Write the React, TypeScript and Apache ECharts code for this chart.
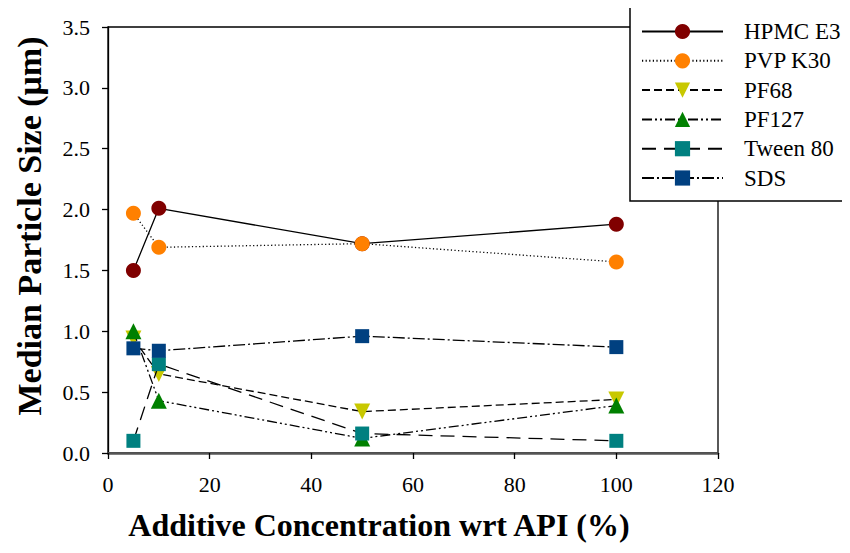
import React, { useEffect, useRef } from "react";
import * as echarts from "echarts";

const xValues = [5, 10, 50, 100];
const seriesNames = ["HPMC E3", "PVP K30", "PF68", "PF127", "Tween 80", "SDS"];
const hpmcE3 = [1.5, 2.01, 1.72, 1.88];
const pvpK30 = [1.97, 1.69, 1.72, 1.57];
const pf68 = [0.94, 0.65, 0.34, 0.44];
const pf127 = [1.0, 0.43, 0.12, 0.39];
const tween80 = [0.1, 0.73, 0.16, 0.1];
const sds = [0.86, 0.84, 0.96, 0.87];
const xTicks = [0, 20, 40, 60, 80, 100, 120];
const yTicks = [0, 0.5, 1, 1.5, 2, 2.5, 3, 3.5];

const FONT = "Liberation Serif";

export default function App() {
  const ref = useRef<HTMLDivElement>(null);
  useEffect(() => {
    if (!ref.current) return;
    const chart = echarts.init(ref.current, undefined, { renderer: "svg" });
    const values = [hpmcE3, pvpK30, pf68, pf127, tween80, sds];
    const colors = ["#800000", "#FF8000", "#C8C800", "#008000", "#008080", "#004080"];
    const symbols = ["circle", "circle", "triangle", "triangle", "rect", "rect"];
    const rotates = [0, 0, 180, 0, 0, 0];
    const sizes = [15, 15, 16, 16, 14, 14];
    const dashes: any[] = [
      "solid",
      [1.2, 2.4],
      [8, 4],
      [10, 3, 2, 3, 2, 3],
      [14, 8],
      [12, 3, 2, 3],
    ];
    const series = seriesNames.map((name, i) => ({
      name,
      type: "line",
      data: xValues.map((x, j) => [x, values[i][j]]),
      symbol: symbols[i],
      symbolRotate: rotates[i],
      symbolSize: sizes[i],
      itemStyle: { color: colors[i], borderWidth: 0 },
      lineStyle: { color: "#000", width: 1.3, type: dashes[i] },
      z: 2 + i * 0.01,
    }));
    const lbl = { color: "#000", fontFamily: FONT, fontSize: 22 };
    chart.setOption({
      animation: false,
      grid: {
        left: 108,
        top: 27,
        right: 132,
        bottom: 100,
        show: true,
        borderColor: "#000",
        borderWidth: 1.3,
        backgroundColor: "transparent",
      },
      xAxis: {
        type: "value",
        min: xTicks[0],
        max: xTicks[xTicks.length - 1],
        interval: 20,
        splitLine: { show: false },
        axisLine: { show: true, onZero: false, lineStyle: { color: "#555", width: 2.5 } },
        axisTick: { show: true, inside: false, length: 6, lineStyle: { color: "#000", width: 1.3 } },
        axisLabel: {
          color: "#000",
          fontFamily: FONT,
          fontWeight: 500,
          fontSize: 22,
          margin: 20,
        },
        name: "Additive Concentration wrt API (%)",
        nameLocation: "middle",
        nameGap: 56,
        nameTextStyle: {
          color: "#000",
          fontFamily: FONT,
          fontSize: 32,
          fontWeight: "bold",
          padding: [0, 68, 0, 0],
        },
      },
      yAxis: {
        type: "value",
        min: yTicks[0],
        max: yTicks[yTicks.length - 1],
        interval: 0.5,
        splitLine: { show: false },
        axisLine: { show: true, onZero: false, lineStyle: { color: "#000", width: 1.3 } },
        axisTick: { show: true, inside: false, length: 6, lineStyle: { color: "#000", width: 1.3 } },
        axisLabel: {
          margin: 18,
          formatter: (v: number) => "{a|" + v.toFixed(1) + "}",
          rich: { a: lbl },
        },
        name: "Median Particle Size (\u03bcm)",
        nameLocation: "middle",
        nameGap: 62,
        nameTextStyle: {
          color: "#000",
          fontFamily: FONT,
          fontSize: 34,
          fontWeight: "bold",
          padding: [0, 0, 0, 28],
        },
      },
      legend: {
        data: seriesNames,
        orient: "vertical",
        left: 641,
        top: 20,
        itemWidth: 81,
        itemHeight: 19,
        itemGap: 6.3,
        padding: 0,
        z: 20,
        formatter: "{a|{name}}",
        textStyle: {
          padding: [0, 0, 0, 16],
          rich: { a: { color: "#000", fontFamily: FONT, fontSize: 23 } },
        },
      },
      graphic: [
        {
          type: "rect",
          z: 10,
          shape: { x: 630, y: 5, width: 240, height: 196 },
          style: { fill: "#fff", stroke: "#000", lineWidth: 1.5 },
        },
      ],
      series,
    });
    return () => chart.dispose();
  }, []);
  return <div ref={ref} style={{ width: 850, height: 553, margin: -8 }} />;
}
